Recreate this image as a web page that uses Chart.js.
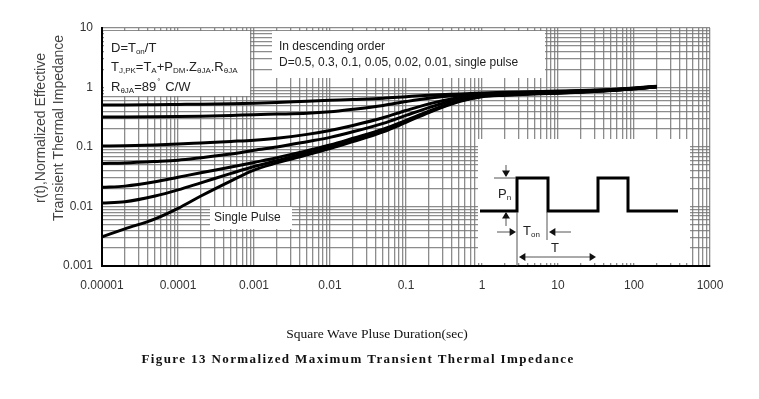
<!DOCTYPE html>
<html>
<head>
<meta charset="utf-8">
<script src="https://cdn.jsdelivr.net/npm/chart.js@4.4.0/dist/chart.umd.min.js"></script>
<style>
  html, body { margin: 0; padding: 0; background: #fff; }
  #wrap { width: 759px; height: 399px; position: relative; }
</style>
</head>
<body>
<div id="wrap"><canvas id="zthChart" width="759" height="399"></canvas></div>
<script>
// pulse duration (sec)
const pulseTimes = [1e-5, 2e-5, 5e-5, 1e-4, 2e-4, 5e-4, 1e-3, 2e-3, 5e-3, 1e-2, 2e-2, 5e-2, 0.1, 0.2, 0.5, 1, 2, 5, 10, 20, 50, 100, 200];

// r(t) per duty cycle
const dutyLabels = ["D=0.5", "D=0.3", "D=0.1", "D=0.05", "D=0.02", "D=0.01", "Single Pulse"];
const rD05 = [0.51, 0.51, 0.515, 0.52, 0.525, 0.535, 0.545, 0.56, 0.59, 0.61, 0.63, 0.66, 0.7, 0.74, 0.78, 0.81, 0.83, 0.85, 0.87, 0.89, 0.93, 0.98, 1.05];
const rD03 = [0.32, 0.32, 0.322, 0.325, 0.33, 0.34, 0.35, 0.357, 0.368, 0.39, 0.43, 0.5, 0.58, 0.66, 0.74, 0.79, 0.81, 0.84, 0.86, 0.88, 0.92, 0.97, 1.04];
const rD01 = [0.104, 0.105, 0.108, 0.112, 0.117, 0.124, 0.13, 0.14, 0.163, 0.19, 0.23, 0.31, 0.41, 0.53, 0.68, 0.76, 0.8, 0.83, 0.85, 0.87, 0.91, 0.96, 1.03];
const rD005 = [0.053, 0.054, 0.057, 0.06, 0.066, 0.076, 0.088, 0.1, 0.123, 0.145, 0.18, 0.25, 0.34, 0.46, 0.64, 0.74, 0.78, 0.81, 0.83, 0.86, 0.9, 0.96, 1.03];
const rD002 = [0.021, 0.022, 0.026, 0.031, 0.037, 0.046, 0.055, 0.066, 0.087, 0.108, 0.14, 0.2, 0.28, 0.4, 0.6, 0.72, 0.76, 0.8, 0.82, 0.85, 0.9, 0.95, 1.03];
const rD001 = [0.0114, 0.012, 0.015, 0.019, 0.025, 0.036, 0.047, 0.059, 0.08, 0.1, 0.13, 0.19, 0.27, 0.39, 0.59, 0.71, 0.75, 0.79, 0.81, 0.84, 0.89, 0.95, 1.03];
const rSingle = [0.0031, 0.0042, 0.0062, 0.0093, 0.015, 0.027, 0.041, 0.054, 0.074, 0.094, 0.123, 0.18, 0.26, 0.38, 0.58, 0.7, 0.74, 0.78, 0.8, 0.83, 0.89, 0.95, 1.03];

// tick labels (decades only)
const xTickLabels = ["0.00001", "0.0001", "0.001", "0.01", "0.1", "1", "10", "100", "1000"];
const yTickLabels = ["0.001", "0.01", "0.1", "1", "10"];

const X_MIN = 1e-5, X_MAX = 1000;
const Y_MIN = 0.001, Y_MAX = 10;

// 1..9 x 10^n ticks so every log grid line is drawn
function logTicks(min, max) {
  const out = [];
  const e0 = Math.round(Math.log10(min));
  const e1 = Math.round(Math.log10(max));
  for (let e = e0; e <= e1; e++) {
    for (let m = 1; m <= 9; m++) {
      const v = Number((m * Math.pow(10, e)).toPrecision(6));
      if (v > max * 1.0000001) break;
      out.push({ value: v });
    }
  }
  return out;
}

function decadeLabel(value, min, labels) {
  const lg = Math.log10(value);
  if (Math.abs(lg - Math.round(lg)) > 1e-6) return "";
  return labels[Math.round(lg) - Math.round(Math.log10(min))] || "";
}

// text with subscripts: parts = [[text, sub?], ...]
function drawRich(ctx, parts, x, y, size) {
  let cx = x;
  parts.forEach(([txt, sub]) => {
    ctx.font = (sub ? Math.round(size * 0.6) : size) + "px 'Liberation Sans', Arial, sans-serif";
    ctx.fillText(txt, cx, sub ? y + size * 0.28 : y);
    cx += ctx.measureText(txt).width;
  });
  return cx;
}

function arrowHead(ctx, x, y, dir) {
  // dir: 'down' | 'up' | 'left' | 'right'
  ctx.beginPath();
  const s = 4;
  if (dir === "down") { ctx.moveTo(x, y); ctx.lineTo(x - s, y - s * 1.6); ctx.lineTo(x + s, y - s * 1.6); }
  if (dir === "up") { ctx.moveTo(x, y); ctx.lineTo(x - s, y + s * 1.6); ctx.lineTo(x + s, y + s * 1.6); }
  if (dir === "right") { ctx.moveTo(x, y); ctx.lineTo(x - s * 1.6, y - s); ctx.lineTo(x - s * 1.6, y + s); }
  if (dir === "left") { ctx.moveTo(x, y); ctx.lineTo(x + s * 1.6, y - s); ctx.lineTo(x + s * 1.6, y + s); }
  ctx.closePath();
  ctx.fill();
}

function line(ctx, x1, y1, x2, y2) {
  ctx.beginPath();
  ctx.moveTo(x1, y1);
  ctx.lineTo(x2, y2);
  ctx.stroke();
}

// annotation boxes + pulse inset
const notesPlugin = {
  id: "notes",
  beforeDatasetsDraw(chart) {
    const ctx = chart.ctx;
    ctx.save();
    ctx.fillStyle = "#fff";
    ctx.fillRect(104, 31, 146, 65);
    ctx.fillRect(272, 31, 273, 47);
    ctx.fillRect(210, 207, 82, 22);
    ctx.fillRect(478, 139, 212, 124);

    ctx.fillStyle = "#222";
    ctx.textBaseline = "middle";
    ctx.textAlign = "left";
    drawRich(ctx, [["D=T", 0], ["on", 1], ["/T", 0]], 111, 48, 13);
    drawRich(ctx, [["T", 0], ["J,PK", 1], ["=T", 0], ["A", 1], ["+P", 0], ["DM", 1], [".Z", 0], ["θJA", 1], [".R", 0], ["θJA", 1]], 111, 67, 13);
    let ex = drawRich(ctx, [["R", 0], ["θJA", 1], ["=89", 0]], 111, 87, 13);
    ctx.font = "8px 'Liberation Sans', Arial, sans-serif";
    ctx.fillText("°", ex + 1, 82);
    ctx.font = "13px 'Liberation Sans', Arial, sans-serif";
    ctx.fillText("C/W", ex + 9, 87);

    ctx.font = "12px 'Liberation Sans', Arial, sans-serif";
    ctx.fillText("In descending order", 279, 47);
    ctx.fillText("D=0.5, 0.3, 0.1, 0.05, 0.02, 0.01, single pulse", 279, 63);
    ctx.fillText("Single Pulse", 214, 218);

    // pulse train
    ctx.strokeStyle = "#000";
    ctx.lineWidth = 3;
    ctx.lineJoin = "miter";
    ctx.beginPath();
    ctx.moveTo(480, 211);
    ctx.lineTo(517, 211); ctx.lineTo(517, 178); ctx.lineTo(548, 178); ctx.lineTo(548, 211);
    ctx.lineTo(598, 211); ctx.lineTo(598, 178); ctx.lineTo(628, 178); ctx.lineTo(628, 211);
    ctx.lineTo(678, 211);
    ctx.stroke();

    ctx.lineWidth = 1;
    ctx.strokeStyle = "#555";
    ctx.fillStyle = "#111";
    line(ctx, 494, 178, 516, 178);
    line(ctx, 506, 165, 506, 176);
    arrowHead(ctx, 506, 177, "down");
    line(ctx, 506, 213, 506, 226);
    arrowHead(ctx, 506, 212, "up");
    line(ctx, 517, 212, 517, 266);
    line(ctx, 547, 212, 547, 240);
    line(ctx, 497, 232, 514, 232);
    arrowHead(ctx, 516, 232, "right");
    line(ctx, 551, 232, 571, 232);
    arrowHead(ctx, 549, 232, "left");
    line(ctx, 521, 257, 594, 257);
    arrowHead(ctx, 519, 257, "left");
    arrowHead(ctx, 596, 257, "right");

    ctx.fillStyle = "#222";
    drawRich(ctx, [["P", 0], ["n", 1]], 498, 194, 13);
    drawRich(ctx, [["T", 0], ["on", 1]], 523, 231, 13);
    ctx.font = "13px 'Liberation Sans', Arial, sans-serif";
    ctx.fillText("T", 551, 248);
    ctx.restore();
  },
  afterDraw(chart) {
    const ctx = chart.ctx;
    ctx.save();
    ctx.fillStyle = "#444";
    ctx.textAlign = "center";
    ctx.textBaseline = "middle";
    ctx.translate(50, 128);
    ctx.rotate(-Math.PI / 2);
    ctx.font = "14px 'Liberation Sans', Arial, sans-serif";
    ctx.fillText("r(t),Normalized Effective", 0, -9);
    ctx.fillText("Transient Thermal Impedance", 0, 9);
    ctx.restore();

    ctx.save();
    ctx.fillStyle = "#111";
    ctx.textAlign = "center";
    ctx.textBaseline = "middle";
    ctx.font = "13.5px 'Liberation Serif', 'Times New Roman', serif";
    ctx.fillText("Square Wave Pluse Duration(sec)", 377, 334);
    ctx.font = "bold 13px 'Liberation Serif', 'Times New Roman', serif";
    ctx.letterSpacing = "1.4px";
    ctx.fillText("Figure 13 Normalized Maximum Transient Thermal Impedance", 358, 360);
    ctx.restore();
  },
};

const seriesValues = [rD05, rD03, rD01, rD005, rD002, rD001, rSingle];

const gridColor = "rgba(120,120,120,0.85)";

new Chart(document.getElementById("zthChart"), {
  type: "line",
  data: {
    datasets: seriesValues.map((vals, i) => ({
      label: dutyLabels[i],
      data: pulseTimes.map((t, j) => ({ x: t, y: vals[j] })),
      borderColor: "#000",
      borderWidth: 3,
      pointRadius: 0,
      fill: false,
      cubicInterpolationMode: "monotone",
    })),
  },
  options: {
    responsive: false,
    animation: false,
    devicePixelRatio: 1,
    layout: { padding: { top: 28, right: 49, left: 0, bottom: 0 } },
    plugins: {
      legend: { display: false },
      tooltip: { enabled: false },
    },
    scales: {
      x: {
        type: "logarithmic",
        min: X_MIN,
        max: X_MAX,
        afterBuildTicks: (scale) => { scale.ticks = logTicks(X_MIN, X_MAX); },
        afterFit: (scale) => { scale.height = 133; },
        ticks: {
          autoSkip: false,
          maxRotation: 0,
          padding: 12,
          color: "#333",
          font: { family: "'Liberation Sans', Arial, sans-serif", size: 12 },
          callback: (value) => decadeLabel(value, X_MIN, xTickLabels),
        },
        grid: { color: gridColor, lineWidth: 1.3, drawTicks: false },
        border: { color: "#000", width: 2 },
      },
      y: {
        type: "logarithmic",
        min: Y_MIN,
        max: Y_MAX,
        afterBuildTicks: (scale) => { scale.ticks = logTicks(Y_MIN, Y_MAX); },
        afterFit: (scale) => { scale.width = 102; },
        ticks: {
          autoSkip: false,
          padding: 9,
          color: "#333",
          font: { family: "'Liberation Sans', Arial, sans-serif", size: 12 },
          callback: (value) => decadeLabel(value, Y_MIN, yTickLabels),
        },
        grid: { color: gridColor, lineWidth: 1.3, drawTicks: false },
        border: { color: "#000", width: 2 },
      },
    },
  },
  plugins: [notesPlugin],
});
</script>
</body>
</html>
